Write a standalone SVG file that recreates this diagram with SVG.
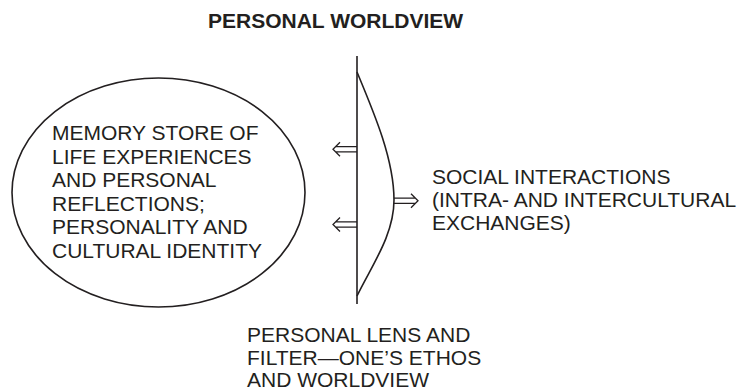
<svg xmlns="http://www.w3.org/2000/svg" xmlns:xlink="http://www.w3.org/1999/xlink" width="740" height="390" viewBox="0 0 740 390">
<style>
  .t { font-family: "Liberation Sans", Arial, Helvetica, sans-serif; font-size: 21px; fill: #231f20; }
  .b { font-weight: bold; }
  .s { fill: none; stroke: #231f20; stroke-width: 1.6; }
  .a { fill: none; stroke: #231f20; stroke-width: 1.3; stroke-linejoin: miter; }
</style>
<defs>
  <g id="dblarrow">
    <path class="a" d="M0,-2.6 H21.4 M0,2.6 H21.4 M17,-7 L24,0 L17,7"/>
  </g>
</defs>
<rect width="740" height="390" fill="#ffffff"/>
<g id="title">
  <text class="t b" x="208" y="28">PERSONAL WORLDVIEW</text>
</g>
<g id="memory">
  <ellipse class="s" cx="158.5" cy="192.5" rx="146.5" ry="114.5"/>
  <text class="t" x="52" y="140">MEMORY STORE OF</text>
  <text class="t" x="52" y="163.5">LIFE EXPERIENCES</text>
  <text class="t" x="52" y="187">AND PERSONAL</text>
  <text class="t" x="52" y="210.5">REFLECTIONS;</text>
  <text class="t" x="52" y="234">PERSONALITY AND</text>
  <text class="t" x="52" y="257.5">CULTURAL IDENTITY</text>
</g>
<g id="lens">
  <line class="s" x1="357" y1="56" x2="357" y2="304"/>
  <path class="s" d="M357,72 C375,115 394,160 394,200 C394,235 372,265 357,296"/>
  <text class="t" x="247" y="342">PERSONAL LENS AND</text>
  <text class="t" x="247" y="364.5">FILTER—ONE’S ETHOS</text>
  <text class="t" x="247" y="386.5">AND WORLDVIEW</text>
</g>
<g id="social">
  <text class="t" x="432" y="184">SOCIAL INTERACTIONS</text>
  <text class="t" x="432" y="207">(INTRA- AND INTERCULTURAL</text>
  <text class="t" x="432" y="230">EXCHANGES)</text>
</g>
<g id="connectors">
  <use xlink:href="#dblarrow" transform="translate(357,149.3) scale(-1,1)"/>
  <use xlink:href="#dblarrow" transform="translate(357,224.5) scale(-1,1)"/>
  <use xlink:href="#dblarrow" transform="translate(394,200.8)"/>
</g>
</svg>
